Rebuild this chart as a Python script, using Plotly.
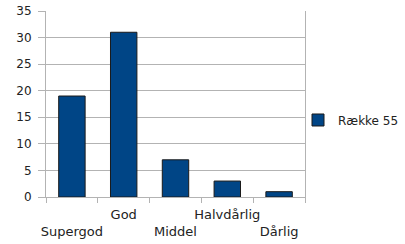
import plotly.graph_objects as go

categories = ["Supergod", "God", "Middel", "Halvdårlig", "Dårlig"]
values = [19, 31, 7, 3, 1]
series_name = "Række 55"
y_ticks = [0, 5, 10, 15, 20, 25, 30, 35]

# staggered labels: even index on second row, odd on first
tick_text = [("<br>" + c) if i % 2 == 0 else (c + "<br> ") for i, c in enumerate(categories)]

fig = go.Figure()
fig.add_trace(go.Bar(
    x=categories, y=values, name=series_name,
    marker=dict(color="#004586", line=dict(color="#1a1a1a", width=1)),
    showlegend=True,
))

fig.update_layout(
    width=405, height=244,
    margin=dict(l=46, r=100, t=11, b=47, autoexpand=False),
    paper_bgcolor="white", plot_bgcolor="white",
    font=dict(family="DejaVu Sans", size=12, color="#222222"),
    bargap=0.49,
    showlegend=True,
    legend=dict(x=0.973, xanchor="left", y=0.414, yanchor="middle",
                font=dict(family="DejaVu Sans", size=12, color="#222222"),
                bgcolor="rgba(0,0,0,0)"),
)
fig.update_xaxes(
    type="category", automargin=False,
    tickvals=categories, ticktext=tick_text,
    tickfont=dict(size=13),
    tickson="boundaries", ticks="outside", ticklen=5, tickcolor="#b3b3b3",
    showline=True, linecolor="#b3b3b3", linewidth=1,
    showgrid=False, tickangle=0, ticklabelstandoff=5,
)
fig.update_yaxes(
    range=[0, 35], tickvals=y_ticks, automargin=False,
    ticks="outside", ticklen=7, tickcolor="#b3b3b3",
    showline=True, linecolor="#b3b3b3", linewidth=1, mirror=True,
    showgrid=True, gridcolor="#b3b3b3", gridwidth=1,
    zeroline=False, ticklabelstandoff=4,
)

fig.write_html("out.html", config={"displayModeBar": False},
               post_script="document.body.style.margin='0px';")
